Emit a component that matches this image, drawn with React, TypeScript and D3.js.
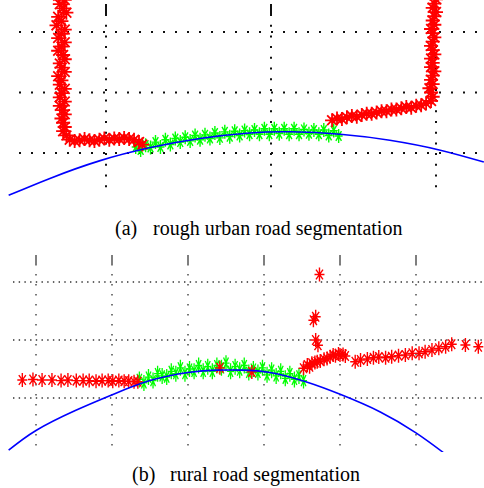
import { scaleLinear, line, curveNatural } from "d3";

// ---- panel (a): rough urban road ----
const gridXA = [-10, 0, 10];
const gridYA = [0, 10, 20];

const roadAx = [-15.9, -13.4, -10.4, -7.3, -4.3, -1.3, 1.2, 4.2, 7.2, 10.2, 12.9];
const roadAy = [-7.0, -4.2, -1.3, 0.9, 2.4, 3.3, 3.5, 3.1, 2.1, 0.5, -1.5];

const groundAx = [-8.2, -7.9, -7.6, -7.3, -7.0, -6.7, -6.4, -6.1, -5.8, -5.5, -5.2, -4.9, -4.6, -4.3, -4.0, -3.7, -3.4, -3.1, -2.8, -2.5, -2.2, -1.9, -1.6, -1.3, -1.0, -0.7, -0.4, -0.1, 0.2, 0.5, 0.8, 1.1, 1.4, 1.7, 2.0, 2.3, 2.6, 2.9, 3.2, 3.5, 3.8, 4.1];
const groundAy = [1.0, 0.5, 1.3, 0.9, 1.8, 1.0, 2.2, 1.4, 2.4, 1.8, 2.6, 2.0, 2.9, 2.2, 3.0, 2.4, 3.3, 2.5, 3.5, 2.7, 3.6, 2.9, 3.7, 3.1, 3.8, 3.1, 4.0, 3.1, 4.0, 3.2, 4.0, 3.1, 4.0, 3.1, 3.9, 3.2, 3.8, 3.1, 3.8, 2.9, 3.7, 2.8];

const leftWallAx = [-12.9, -12.5, -12.8, -12.6, -12.4, -12.9, -12.7, -13.0, -12.5, -12.7, -12.9, -12.5, -12.7, -12.9, -12.6, -12.5, -12.8, -12.7, -12.5, -12.9, -12.7, -12.8, -12.5, -12.7, -12.8, -12.5, -12.8, -12.6, -12.5, -12.7, -12.6, -12.5, -12.6, -12.4];
const leftWallAy = [26.0, 25.3, 24.6, 23.9, 23.2, 22.5, 21.8, 21.1, 20.4, 19.7, 19.0, 18.3, 17.6, 16.9, 16.2, 15.5, 14.8, 14.1, 13.4, 12.7, 12.0, 11.3, 10.6, 9.9, 9.2, 8.5, 7.8, 7.1, 6.4, 5.7, 5.0, 4.3, 3.6, 2.9];
const leftCurbAx = [-12.2, -11.9, -11.6, -11.3, -11.0, -10.7, -10.4, -10.1, -9.8, -9.5, -9.2, -8.9, -8.6, -8.3, -8.0, -7.8];
const leftCurbAy = [2.2, 2.0, 2.1, 2.3, 2.1, 2.0, 2.2, 2.4, 2.2, 2.4, 2.3, 2.5, 2.3, 2.2, 1.8, 1.4];
const rightCurbAx = [3.7, 4.0, 4.3, 4.6, 4.9, 5.2, 5.5, 5.8, 6.1, 6.4, 6.7, 7.0, 7.3, 7.6, 7.9, 8.2, 8.5, 8.8, 9.1, 9.4];
const rightCurbAy = [5.4, 5.7, 5.6, 5.9, 6.1, 6.0, 6.3, 6.5, 6.5, 6.7, 6.9, 6.9, 7.2, 7.2, 7.4, 7.6, 7.5, 7.8, 7.9, 8.2];
const rightWallAx = [9.7, 9.8, 9.7, 9.6, 9.8, 9.7, 9.8, 9.9, 9.7, 9.8, 9.7, 9.9, 9.8, 9.7, 9.8, 9.9, 9.8, 9.7, 9.9, 9.8, 9.9, 10.0, 9.8, 9.9, 10.0, 9.9];
const rightWallAy = [8.6, 9.3, 10.0, 10.7, 11.4, 12.1, 12.8, 13.5, 14.2, 14.9, 15.6, 16.3, 17.0, 17.7, 18.4, 19.1, 19.8, 20.5, 21.2, 21.9, 22.6, 23.3, 24.0, 24.7, 25.4, 26.1];

// ---- panel (b): rural road ----
const gridXB = [-20, -10, 0, 10, 20, 30];
const gridYB = [0, 5, 10];

const roadBx = [-23.6, -20, -14.9, -9.9, -5, 0, 3.8, 7.1, 10.8, 15.5, 20.1, 25.3, 30, 33.6];
const roadBy = [-4.5, -2.8, -1.1, 0.3, 1.5, 2.2, 2.4, 2.4, 2.2, 1.4, 0.3, -1.2, -3.0, -4.7];

const groundBx = [-6.4, -5.8, -5.2, -4.6, -4.0, -3.4, -2.8, -2.2, -1.6, -1.0, -0.4, 0.2, 0.8, 1.4, 2.0, 2.6, 3.2, 3.8, 4.4, 5.0, 5.6, 6.2, 6.8, 7.4, 8.0, 8.6, 9.2, 9.8, 10.4, 11.0, 11.6, 12.2, 12.8, 13.4, 14.0, 14.6, 15.2];
const groundBy = [1.6, 1.3, 1.8, 1.5, 2.1, 1.9, 1.8, 2.3, 2.1, 2.6, 2.1, 2.5, 2.3, 2.8, 2.3, 2.7, 2.3, 2.8, 2.6, 3.0, 2.3, 2.7, 2.4, 2.8, 2.2, 2.5, 2.2, 2.6, 2.0, 2.4, 1.9, 2.3, 1.7, 2.1, 1.6, 1.9, 1.5];

const leftSideBx = [-21.8, -20.4, -19.2, -17.9, -16.7, -15.8, -14.7, -13.8, -13.0, -12.1, -11.3, -10.5, -9.9, -9.1, -8.4, -7.8, -7.1, -6.6, 4.2, 8.4];
const leftSideBy = [1.55, 1.6, 1.55, 1.55, 1.5, 1.55, 1.5, 1.5, 1.5, 1.45, 1.5, 1.5, 1.45, 1.5, 1.45, 1.45, 1.4, 1.4, 2.6, 2.25];
const rightSideBx = [15.2, 15.7, 16.0, 16.3, 16.7, 17.0, 17.4, 17.9, 18.3, 18.7, 19.1, 19.4, 19.8, 20.0, 20.4, 20.7, 22.0, 22.7, 23.6, 24.4, 25.1, 26.0, 26.8, 27.7, 28.6, 29.5, 30.4, 31.2, 32.1, 33.0, 33.9, 34.7, 36.5, 38.2];
const rightSideBy = [2.56, 2.84, 2.7, 2.99, 3.05, 3.13, 3.2, 3.34, 3.4, 3.56, 3.7, 3.65, 3.8, 3.71, 3.75, 3.62, 3.13, 3.28, 3.36, 3.47, 3.53, 3.47, 3.56, 3.65, 3.71, 3.85, 3.85, 3.99, 4.14, 4.28, 4.42, 4.63, 4.57, 4.42];
const outliersBx = [17.3, 16.8, 16.5, 16.8, 17.1];
const outliersBy = [10.65, 7.0, 6.7, 5.0, 4.55];

const RED = "#ff0000";
const GREEN = "#00ff00";
const BLUE = "#0000ff";

function starPath(w, h) {
  const dw = w * 0.7;
  const dh = h * 0.7;
  return `M0,${-h}V${h}M${-w},0H${w}M${-dw},${-dh}L${dw},${dh}M${-dw},${dh}L${dw},${-dh}`;
}

function Markers({ xs, ys, x, y, color, w, h, sw }) {
  const d = starPath(w, h);
  return (
    <g stroke={color} strokeWidth={sw} fill="none">
      {xs.map((v, i) => (
        <path key={i} d={d} transform={`translate(${x(v)},${y(ys[i])})`} />
      ))}
    </g>
  );
}

function Curve({ xs, ys, x, y }) {
  const gen = line<number>()
    .x((v) => x(v))
    .y((_, i) => y(ys[i]))
    .curve(curveNatural);
  return <path d={gen(xs) || ""} fill="none" stroke={BLUE} strokeWidth={1.6} />;
}

function Grid({ xTicks, yTicks, x, y, left, right, top, bottom, tickTop, hDash, vDash, width, color, tickColor, tickWidth }) {
  return (
    <g>
      {yTicks.map((t) => (
        <line key={`h${t}`} x1={left} x2={right} y1={y(t)} y2={y(t)} stroke={color} strokeWidth={width} strokeDasharray={hDash} />
      ))}
      {xTicks.map((t) => (
        <g key={`v${t}`}>
          <line x1={x(t)} x2={x(t)} y1={top} y2={bottom} stroke={color} strokeWidth={width} strokeDasharray={vDash} />
          <line x1={x(t)} x2={x(t)} y1={tickTop} y2={top} stroke={tickColor} strokeWidth={tickWidth} />
        </g>
      ))}
    </g>
  );
}

export default function App() {
  const xA = scaleLinear().domain([-10, 10]).range([106, 436]);
  const yA = scaleLinear().domain([0, 20]).range([153, 32]);
  const xB = scaleLinear().domain([-20, 30]).range([36, 416]);
  const yB = scaleLinear().domain([0, 10]).range([398, 282]);

  const font = "'Liberation Serif', 'Times New Roman', serif";

  return (
    <svg width={484} height={488} style={{ position: "absolute", left: 0, top: 0, background: "#fff" }}>
      <defs>
        <clipPath id="clipA">
          <rect x={8} y={0} width={476} height={197} />
        </clipPath>
        <clipPath id="clipB">
          <rect x={8} y={250} width={476} height={202} />
        </clipPath>
      </defs>

      <g clipPath="url(#clipA)">
        <Grid xTicks={gridXA} yTicks={gridYA} x={xA} y={yA} left={19} right={484} top={14} bottom={195} tickTop={4}
          hDash="2 10" vDash="2 8.7" width={2} color="#111" tickColor="#111" tickWidth={2} />
        <Markers xs={groundAx} ys={groundAy} x={xA} y={yA} color={GREEN} w={4} h={7} sw={1.4} />
        <Markers xs={leftWallAx} ys={leftWallAy} x={xA} y={yA} color={RED} w={7} h={7} sw={1.8} />
        <Markers xs={leftCurbAx} ys={leftCurbAy} x={xA} y={yA} color={RED} w={7} h={7} sw={1.8} />
        <Markers xs={rightCurbAx} ys={rightCurbAy} x={xA} y={yA} color={RED} w={7} h={7} sw={1.8} />
        <Markers xs={rightWallAx} ys={rightWallAy} x={xA} y={yA} color={RED} w={7} h={7} sw={1.8} />
        <Curve xs={roadAx} ys={roadAy} x={xA} y={yA} />
      </g>

      <g clipPath="url(#clipB)">
        <Grid xTicks={gridXB} yTicks={gridYB} x={xB} y={yB} left={13} right={484} top={264} bottom={447} tickTop={255}
          hDash="1.4 4.3" vDash="1.4 8.6" width={1.3} color="#333" tickColor="#555" tickWidth={1.5} />
        <Markers xs={groundBx} ys={groundBy} x={xB} y={yB} color={GREEN} w={3.5} h={8} sw={1.3} />
        <Markers xs={leftSideBx} ys={leftSideBy} x={xB} y={yB} color={RED} w={5} h={7} sw={1.4} />
        <Markers xs={rightSideBx} ys={rightSideBy} x={xB} y={yB} color={RED} w={5} h={7} sw={1.4} />
        <Markers xs={outliersBx} ys={outliersBy} x={xB} y={yB} color={RED} w={5} h={7} sw={1.4} />
        <Curve xs={roadBx} ys={roadBy} x={xB} y={yB} />
      </g>

      <text x={115} y={235} fontFamily={font} fontSize={20} fill="#000">(a)</text>
      <text x={153} y={235} fontFamily={font} fontSize={20} fill="#000">rough urban road segmentation</text>
      <text x={132} y={481} fontFamily={font} fontSize={20} fill="#000">(b)</text>
      <text x={170} y={481} fontFamily={font} fontSize={20} fill="#000">rural road segmentation</text>
    </svg>
  );
}
